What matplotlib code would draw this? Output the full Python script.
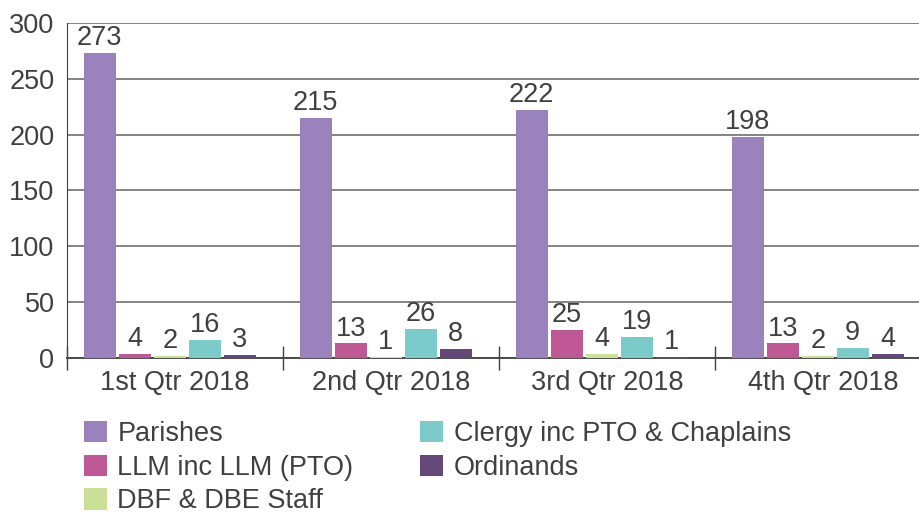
import numpy as np
import matplotlib.pyplot as plt

plt.rcParams['font.family'] = ['Liberation Sans', 'DejaVu Sans']

quarters = ["1st Qtr 2018", "2nd Qtr 2018", "3rd Qtr 2018", "4th Qtr 2018"]
series = ["Parishes", "LLM inc LLM (PTO)", "DBF & DBE Staff",
          "Clergy inc PTO & Chaplains", "Ordinands"]
parishes = [273, 215, 222, 198]
llm = [4, 13, 25, 13]
dbf = [2, 1, 4, 2]
clergy = [16, 26, 19, 9]
ordinands = [3, 8, 1, 4]
values = [parishes, llm, dbf, clergy, ordinands]
colors = ["#9A83BD", "#BF5996", "#C9E096", "#7BCBCB", "#65487A"]

txt = "#404040"
fs = 19.5

fig = plt.figure(figsize=(9.19, 5.15), dpi=100)
ax = fig.add_axes([0.0729, 0.3049, 0.940, 0.6505])

x = np.arange(len(quarters))
w = 0.148
step = 0.162
offs = (np.arange(5) - 2) * step - 0.024
for i, (name, vals, c) in enumerate(zip(series, values, colors)):
    bars = ax.bar(x + offs[i], vals, w, color=c, label=name, zorder=3)
    for b, v in zip(bars, vals):
        ax.text(b.get_x() + b.get_width() / 2, v + 1.5, str(v), ha='center',
                va='bottom', fontsize=fs, color=txt)

ax.set_xlim(-0.5, 3.5)
ax.set_ylim(0, 300)
ax.set_yticks(range(0, 301, 50))
ax.grid(axis='y', color='#7a7a7a', lw=1.3, zorder=0)
ax.tick_params(axis='y', length=0, labelsize=fs, labelcolor=txt, pad=9)
ax.set_xticks(np.arange(-0.5, 3.6, 1))
ax.set_xticklabels([])
ax.set_xticks(x, minor=True)
ax.set_xticklabels(quarters, minor=True)
ax.tick_params(axis='x', which='major', direction='inout', length=17,
               color=txt, width=1)
ax.tick_params(axis='x', which='minor', length=0, labelsize=fs,
               labelcolor=txt, pad=9)
for s in ['top', 'right']:
    ax.spines[s].set_visible(False)
ax.spines['left'].set_color(txt)
ax.spines['bottom'].set_color(txt)
ax.spines['bottom'].set_linewidth(1.3)

fig.legend(loc='upper left', bbox_to_anchor=(0.091, 0.183), ncol=2,
           frameon=False, fontsize=fs, handlelength=0.85, handleheight=0.85,
           handletextpad=0.4, labelspacing=0.28, columnspacing=2.45,
           labelcolor=txt, borderaxespad=0, borderpad=0)

fig.savefig("out.png", dpi=100)
